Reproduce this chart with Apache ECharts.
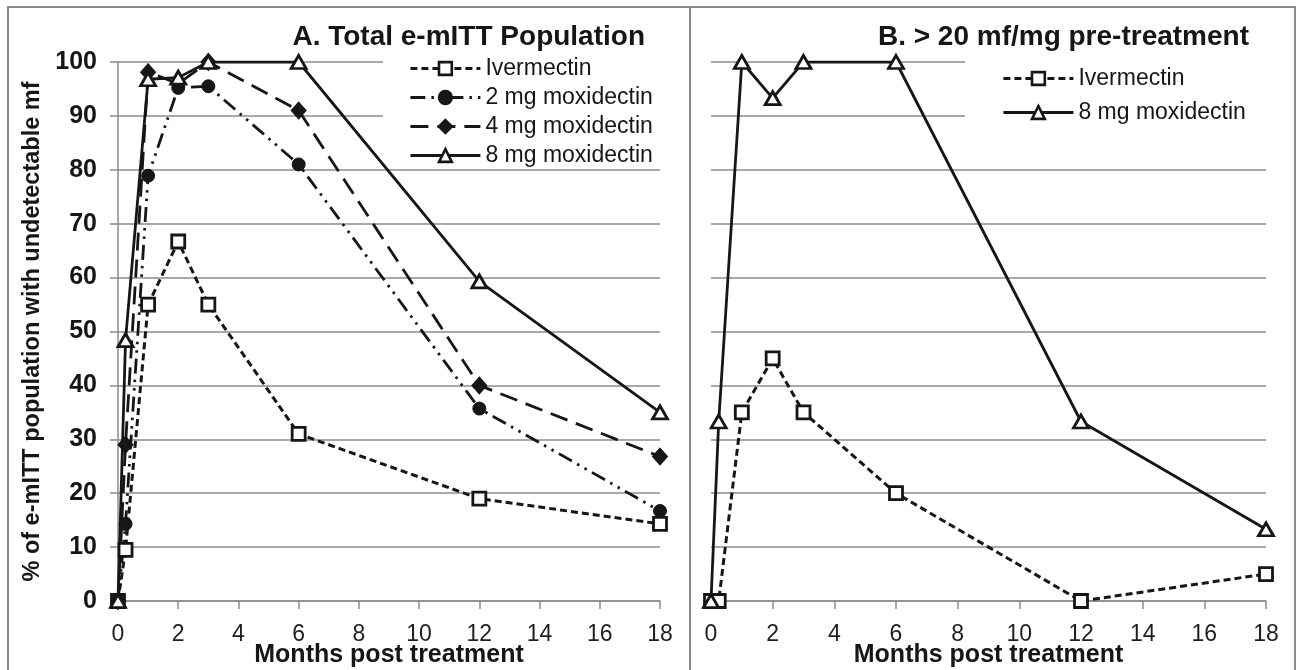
<!DOCTYPE html>
<html>
<head>
<meta charset="utf-8">
<script src="https://cdn.jsdelivr.net/npm/echarts@6/dist/echarts.min.js"></script>
<style>
  html, body { margin: 0; padding: 0; background: #fff; }
  #chart { width: 1298px; height: 670px; }
</style>
</head>
<body>
<div id="chart"></div>
<script>
// Follow-up time points (months post treatment)
const months = [0, 0.25, 1, 2, 3, 6, 12, 18];

// Panel A: total e-mITT population, % with undetectable mf
const totalIvermectin = [0, 9.5, 55, 66.7, 55, 31, 19, 14.3];
const total2mg = [0, 14.3, 78.9, 95.2, 95.5, 81, 35.7, 16.7];
const total4mg = [0, 29, 98.1, 96, 100, 91, 40, 26.8];
const total8mg = [0, 48.4, 96.8, 97.1, 100, 100, 59.3, 35];

// Panel B: > 20 mf/mg pre-treatment
const highIvermectin = [0, 0, 35, 45, 35, 20, 0, 5];
const high8mg = [0, 33.3, 100, 93.3, 100, 100, 33.3, 13.3];

const xTicks = [0, 2, 4, 6, 8, 10, 12, 14, 16, 18];
const yTicks = [0, 10, 20, 30, 40, 50, 60, 70, 80, 90, 100];

const FONT = "'Liberation Sans', Arial, Helvetica, sans-serif";
const INK = '#161616';
const GRID = '#8c8c8c';

const pairs = (ys) => months.map((m, i) => [m, ys[i]]);

const styles = {
  'Ivermectin': {
    symbol: 'rect', symbolSize: 13,
    itemStyle: { color: '#fff', borderColor: INK, borderWidth: 2.8 },
    lineStyle: { color: INK, width: 3, type: [7, 4] }
  },
  '2 mg moxidectin': {
    symbol: 'circle', symbolSize: 13,
    itemStyle: { color: INK, borderColor: INK, borderWidth: 1 },
    lineStyle: { color: INK, width: 2.8, type: [15, 6, 2.5, 6, 2.5, 6] }
  },
  '4 mg moxidectin': {
    symbol: 'diamond', symbolSize: [15, 17],
    itemStyle: { color: INK, borderColor: INK, borderWidth: 1 },
    lineStyle: { color: INK, width: 2.8, type: [18, 9] }
  },
  '8 mg moxidectin': {
    symbol: 'triangle', symbolSize: [15, 13],
    itemStyle: { color: '#fff', borderColor: INK, borderWidth: 2.8 },
    lineStyle: { color: INK, width: 2.8, type: 'solid' }
  }
};

function lineSeries(name, ys, gridIdx) {
  const s = styles[name];
  return {
    type: 'line', name: name,
    xAxisIndex: gridIdx, yAxisIndex: gridIdx,
    data: pairs(ys),
    symbol: s.symbol, symbolSize: s.symbolSize,
    showSymbol: true, showAllSymbol: true,
    itemStyle: s.itemStyle, lineStyle: s.lineStyle,
    emphasis: { disabled: true },
    z: 3
  };
}

function legendItem(name, left, centerY) {
  return {
    data: [name],
    left: left, top: centerY - 8,
    orient: 'horizontal',
    padding: 0,
    itemWidth: 70, itemHeight: 16,
    selectedMode: false,
    itemStyle: { borderWidth: 2.6 },
    lineStyle: { width: 2.8 },
    textStyle: { fontFamily: FONT, fontSize: 23, color: INK }
  };
}

function xAxisFor(gridIdx) {
  return {
    type: 'value', gridIndex: gridIdx,
    min: 0, max: 18, interval: 2,
    name: 'Months post treatment',
    nameLocation: 'middle', nameGap: 42, nameMoveOverlap: false,
    nameTextStyle: { fontFamily: FONT, fontSize: 25, fontWeight: 'bold', color: INK },
    axisLine: { show: true, lineStyle: { color: GRID, width: 1.5 } },
    axisTick: { show: true, length: 8, lineStyle: { color: GRID, width: 1.5 } },
    axisLabel: {
      fontFamily: FONT, fontSize: 23, color: '#1e1e1e', margin: 22,
      customValues: xTicks
    },
    splitLine: { show: false }
  };
}

const option = {
  animation: false,
  backgroundColor: '#fff',
  title: [
    {
      text: 'A. Total e-mITT Population',
      right: 653, top: 23, padding: 0,
      textStyle: { fontFamily: FONT, fontSize: 28, fontWeight: 'bold', color: INK }
    },
    {
      text: 'B. > 20 mf/mg pre-treatment',
      right: 49, top: 23, padding: 0,
      textStyle: { fontFamily: FONT, fontSize: 28, fontWeight: 'bold', color: INK }
    }
  ],
  legend: [
    legendItem('Ivermectin', 409, 65),
    legendItem('2 mg moxidectin', 409, 94),
    legendItem('4 mg moxidectin', 409, 123),
    legendItem('8 mg moxidectin', 409, 152),
    legendItem('Ivermectin', 1002, 75),
    legendItem('8 mg moxidectin', 1002, 109)
  ],
  grid: [
    { left: 118, top: 62, width: 542, height: 539, containLabel: false, outerBoundsMode: 'none' },
    { left: 711, top: 62, width: 555, height: 539, containLabel: false, outerBoundsMode: 'none' }
  ],
  xAxis: [xAxisFor(0), xAxisFor(1)],
  yAxis: [
    {
      type: 'value', gridIndex: 0,
      min: 0, max: 100, interval: 10,
      name: '% of e-mITT population with undetectable mf',
      nameLocation: 'middle', nameGap: 73, nameRotate: 90, nameMoveOverlap: false,
      nameTextStyle: { fontFamily: FONT, fontSize: 23.5, fontWeight: 'bold', color: INK },
      axisLine: { show: true, lineStyle: { color: GRID, width: 1.5 } },
      axisTick: { show: true, length: 8, lineStyle: { color: GRID, width: 1.5 } },
      axisLabel: { fontFamily: FONT, fontSize: 25, fontWeight: 'bold', color: INK, margin: 21, customValues: yTicks },
      splitLine: { show: true, lineStyle: { color: GRID, width: 1.5 } }
    },
    {
      type: 'value', gridIndex: 1,
      min: 0, max: 100, interval: 10,
      axisLine: { show: false },
      axisTick: { show: false },
      axisLabel: { show: false },
      splitLine: { show: true, lineStyle: { color: GRID, width: 1.5 } }
    }
  ],
  graphic: [
    // blank boxes behind the legends (they mask the top gridlines)
    { type: 'rect', z: 1, silent: true, shape: { x: 383, y: 44, width: 280, height: 118 }, style: { fill: '#fff' } },
    { type: 'rect', z: 1, silent: true, shape: { x: 965, y: 44, width: 304, height: 86 }, style: { fill: '#fff' } },
    // outer frame and panel divider
    { type: 'rect', z: 5, silent: true, shape: { x: 8, y: 7, width: 1287, height: 675 }, style: { fill: 'none', stroke: '#8a8a8a', lineWidth: 2 } },
    { type: 'line', z: 5, silent: true, shape: { x1: 690, y1: 7, x2: 690, y2: 680 }, style: { stroke: '#8a8a8a', lineWidth: 2 } }
  ],
  series: [
    lineSeries('Ivermectin', totalIvermectin, 0),
    lineSeries('2 mg moxidectin', total2mg, 0),
    lineSeries('4 mg moxidectin', total4mg, 0),
    lineSeries('8 mg moxidectin', total8mg, 0),
    lineSeries('Ivermectin', highIvermectin, 1),
    lineSeries('8 mg moxidectin', high8mg, 1)
  ]
};

const chart = echarts.init(document.getElementById('chart'), null, { renderer: 'canvas' });
chart.setOption(option);
</script>
</body>
</html>
